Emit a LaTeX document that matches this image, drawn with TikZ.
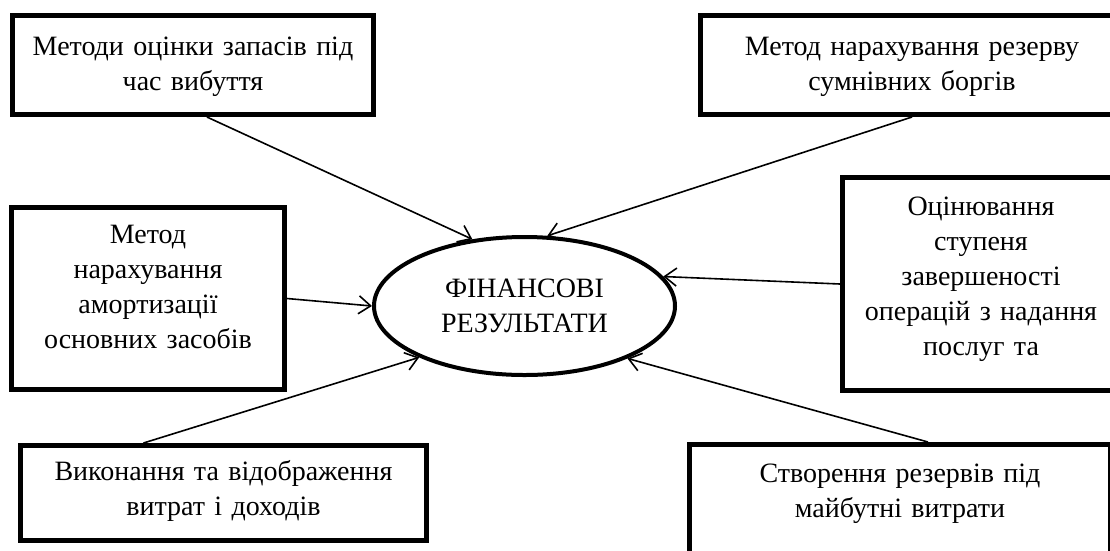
\documentclass[tikz,border=0pt]{standalone}
\usepackage{fontspec}
\setmainfont{Liberation Serif}
\usetikzlibrary{positioning,arrows.meta,shapes.geometric}

\begin{document}
\begin{tikzpicture}
        [x=1pt,y=-1pt,
        box/.style={rectangle,draw,line width=5pt,inner sep=0pt},
        txt/.style={anchor=base,align=center,inner sep=0pt,text width=#1,
          font=\fontsize{28}{35}\selectfont},
        link/.style={line width=1.6pt,-{Straight Barb[length=12pt,width=18pt]}}]
        \useasboundingbox (0,0) rectangle (1110,550);
        \fill[white] (0,0) rectangle (1110,550);
        \clip (0,0) rectangle (1110,550);

        \node[box,minimum width=361pt,minimum height=99pt] (b1) at (193,65) {};
        \node[box,minimum width=423pt,minimum height=99pt] (b2) at (912,65) {};
        \node[box,minimum width=273pt,minimum height=182pt] (b3) at (148,298.5) {};
        \node[box,minimum width=277pt,minimum height=213pt] (b4) at (981,284) {};
        \node[box,minimum width=406pt,minimum height=95pt] (b5) at (223.5,493) {};
        \node[box,minimum width=421pt,minimum height=115pt] (b6) at (900,502) {};

        \node[txt=400pt] (t1) at ([yshift=-42pt]b1.north) {Методи оцінки запасів під\\час вибуття};
        \node[txt=420pt] (t2) at ([yshift=-42pt]b2.north) {Метод нарахування резерву\\сумнівних боргів};
        \node[txt=270pt] (t3) at ([yshift=-38pt]b3.north) {Метод\\нарахування\\амортизації\\основних засобів};
        \node[txt=275pt] (t4) at ([yshift=-40pt]b4.north) {Оцінювання\\ступеня\\завершеності\\операцій з надання\\послуг та};
        \node[txt=400pt] (t5) at ([yshift=-37pt]b5.north) {Виконання та відображення\\витрат і доходів};
        \node[txt=420pt] (t6) at ([yshift=-40pt]b6.north) {Створення резервів під\\майбутні витрати};

        \node[ellipse,draw,line width=4pt,minimum width=301pt,minimum height=138pt,
          align=center,font=\fontsize{28}{35}\selectfont] (e) at (524.5,306) {ФІНАНСОВІ\\РЕЗУЛЬТАТИ};

        \foreach \from/\to in {b1.-75/e.128, b2.south/e.72, b4.west/e.12,
        b3.east/e.180, b5.148/e.206, b6.65/e.-27}
            \draw[link] (\from) -- (\to);

      \end{tikzpicture}
\end{document}
